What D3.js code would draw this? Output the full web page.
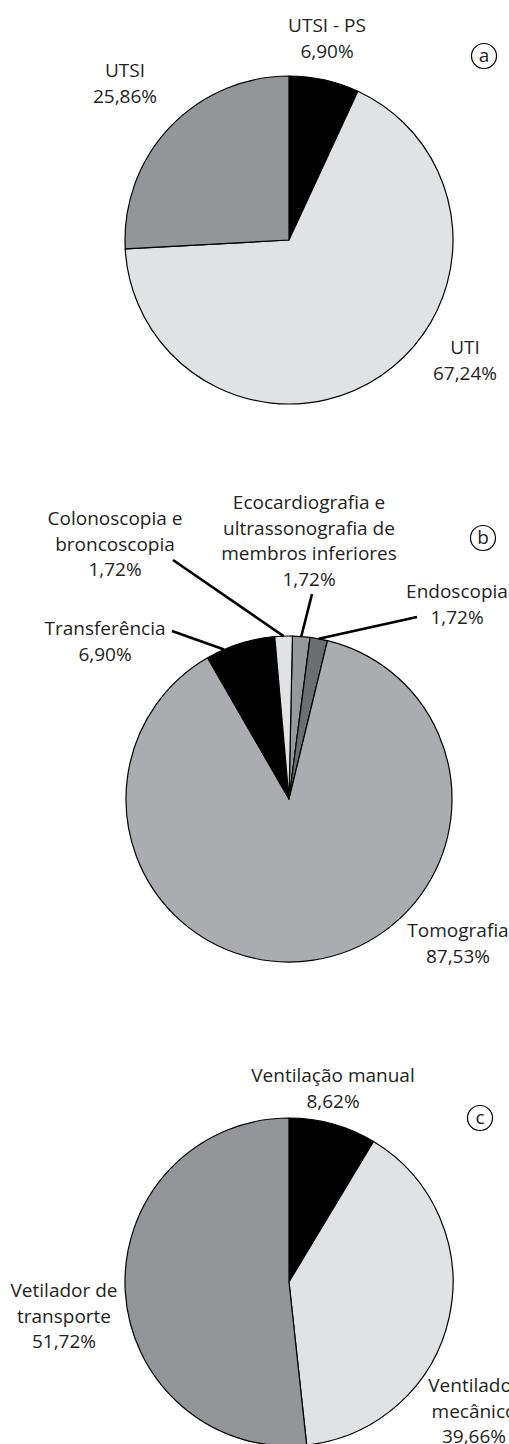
<!DOCTYPE html>
<html>
<head>
<meta charset="utf-8">
<script src="https://cdn.jsdelivr.net/npm/d3@7"></script>
<style>
  body { margin: 0; background: #fff; }
  text { font-family: "Open Sans", Lato, sans-serif; font-size: 19px; fill: #231f20; }
</style>
</head>
<body>
<div id="chart"></div>
<script>
// Data for the three pies (values in %)
let categoriesA = [["UTSI - PS"], ["UTI"], ["UTSI"]];
let valuesA = [6.90, 67.24, 25.86];

let categoriesB = [["Ecocardiografia e", "ultrassonografia de", "membros inferiores"], ["Endoscopia"], ["Tomografia"], ["Transferência"], ["Colonoscopia e", "broncoscopia"]];
let valuesB = [1.72, 1.72, 87.53, 6.90, 1.72];

let categoriesC = [["Ventilação manual"], ["Ventilador", "mecânico"], ["Vetilador de", "transporte"]];
let valuesC = [8.62, 39.66, 51.72];

let panelLetters = ["a", "b", "c"];

// Styling and layout (kept apart from the data)
let colorsA = ["#000000", "#e1e2e4", "#939598"];
let colorsB = ["#96989b", "#6d6e71", "#aaacaf", "#000000", "#e1e2e4"];
let colorsC = ["#000000", "#e1e2e4", "#939598"];

// label anchor offsets from pie centre (x, y of first line)
let labelPosA = [[38, -215], [176, 107], [-164, -170]];
let labelPosB = [[20, -297], [168, -208], [169, 131], [-184, -171], [-174, -281]];
let labelPosC = [[44, -207], [185, 103], [-225, 8]];

// leader lines for pie b: [fraction along slice, x end, y end] (relative to centre)
let leadersB = [[0.5, 23, -205], [0.5, 128, -182], null, [0.26, -117, -168], [0.5, -116, -239]];

let panels = [
  { cats: categoriesA, vals: valuesA, colors: colorsA, pos: labelPosA, cx: 289, cy: 240, r: 164, start: 0, letter: [195, -184], leaders: null },
  { cats: categoriesB, vals: valuesB, colors: colorsB, pos: labelPosB, cx: 289, cy: 799, r: 163, start: 0.021, letter: [194, -261], leaders: leadersB },
  { cats: categoriesC, vals: valuesC, colors: colorsC, pos: labelPosC, cx: 289, cy: 1282, r: 164, start: 0, letter: [191, -164], leaders: null }
];

let lineHeight = 25.5;

function fmt(v) {
  return v.toFixed(2).replace(".", ",") + "%";
}

var svg = d3.select("#chart")
  .append("svg")
  .attr("width", 509)
  .attr("height", 1444);

panels.forEach(function (p, k) {
  var g = svg.append("g")
    .attr("transform", "translate(" + p.cx + "," + p.cy + ")");

  var pie = d3.pie()
    .sort(null)
    .startAngle(p.start)
    .endAngle(p.start + 2 * Math.PI)
    .value(function (d) { return d; });

  var arc = d3.arc().innerRadius(0).outerRadius(p.r);
  var arcs = pie(p.vals);

  // Slices
  g.selectAll("path.slice")
    .data(arcs)
    .enter()
    .append("path")
    .attr("class", "slice")
    .attr("d", arc)
    .attr("fill", function (d, i) { return p.colors[i]; })
    .attr("stroke", "#000")
    .attr("stroke-width", 1.2)
    .attr("stroke-linejoin", "round");

  // Leader lines
  if (p.leaders) {
    arcs.forEach(function (d, i) {
      var L = p.leaders[i];
      if (!L) return;
      var a = d.startAngle + (d.endAngle - d.startAngle) * L[0];
      g.append("line")
        .attr("x1", Math.sin(a) * p.r)
        .attr("y1", -Math.cos(a) * p.r)
        .attr("x2", L[1])
        .attr("y2", L[2])
        .attr("stroke", "#000")
        .attr("stroke-width", 2.6);
    });
  }

  // Labels
  arcs.forEach(function (d, i) {
    var lines = p.cats[i].concat([fmt(p.vals[i])]);
    var t = g.append("text")
      .attr("text-anchor", "middle")
      .attr("dominant-baseline", "central");
    lines.forEach(function (s, j) {
      t.append("tspan")
        .attr("x", p.pos[i][0])
        .attr("y", p.pos[i][1] + j * lineHeight)
        .text(s);
    });
  });

  // Circled panel letter
  g.append("circle")
    .attr("cx", p.letter[0])
    .attr("cy", p.letter[1])
    .attr("r", 12.5)
    .attr("fill", "none")
    .attr("stroke", "#000")
    .attr("stroke-width", 1.2);
  g.append("text")
    .attr("x", p.letter[0])
    .attr("y", p.letter[1] - 1)
    .attr("text-anchor", "middle")
    .attr("dominant-baseline", "central")
    .text(panelLetters[k]);
});
</script>
</body>
</html>
